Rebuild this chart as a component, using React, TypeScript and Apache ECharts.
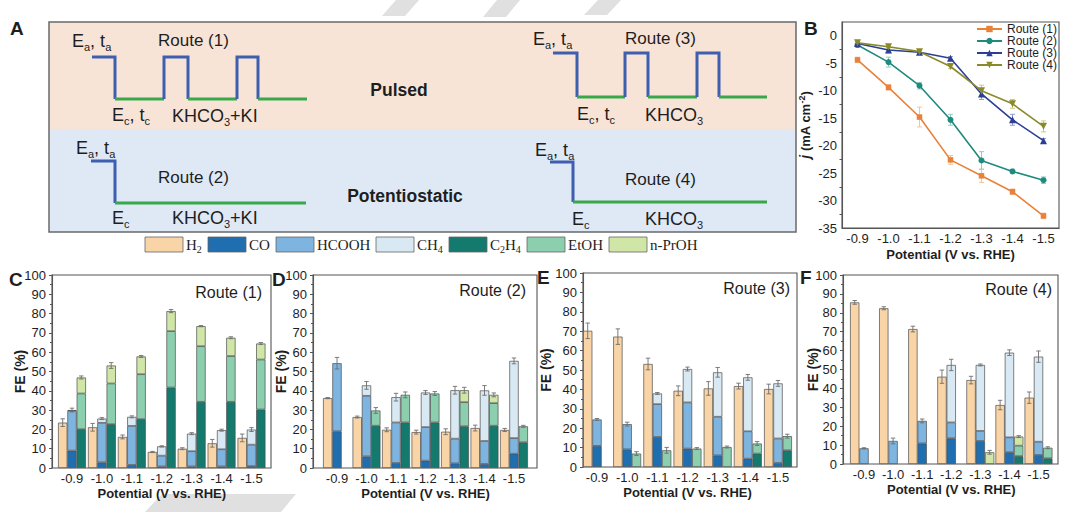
import React, { useEffect, useRef } from 'react';
import * as echarts from 'echarts';

// ---------------- DATA ----------------
const potentials = ['-0.9', '-1.0', '-1.1', '-1.2', '-1.3', '-1.4', '-1.5'];

// Panel B: current density j (mA cm-2)
const routeNames = ['Route (1)', 'Route (2)', 'Route (3)', 'Route (4)'];
const jRoute1 = [-4.4, -9.4, -14.8, -22.6, -25.5, -28.4, -32.8];
const jRoute2 = [-1.7, -4.8, -9.1, -15.3, -22.7, -24.7, -26.3];
const jRoute3 = [-1.4, -2.6, -3.0, -4.1, -10.6, -15.3, -19.1];
const jRoute4 = [-1.3, -2.0, -2.9, -5.6, -10.0, -12.4, -16.5];
const jErr1 = [0.5, 0.5, 1.8, 0.8, 1.2, 0.5, 0.5];
const jErr2 = [0.4, 0.9, 0.6, 1.0, 1.6, 0.4, 0.6];
const jErr3 = [0.3, 0.5, 0.3, 0.3, 1.0, 1.0, 0.4];
const jErr4 = [0.3, 0.4, 0.4, 0.4, 1.0, 0.8, 1.0];

// Faradaic efficiencies (%)
const products = ['H2', 'CO', 'HCOOH', 'CH4', 'C2H4', 'EtOH', 'n-PrOH'];

// Route (1)
const c_H2 = [23.5, 21.1, 16.1, 8.3, 10.0, 12.8, 15.6];
const c_CO = [9.0, 2.9, 1.6, 0.8, 0.8, 0.8, 1.0];
const c_HCOOH = [20.6, 20.5, 20.2, 5.6, 7.9, 8.9, 11.1];
const c_CH4 = [0.4, 2.2, 4.7, 4.8, 9.1, 9.9, 7.8];
const c_C2H4 = [20.1, 22.7, 25.3, 41.7, 34.3, 34.3, 30.3];
const c_EtOH = [18.5, 21.1, 23.3, 29.2, 28.8, 23.7, 25.9];
const c_PrOH = [8.3, 9.3, 9.2, 10.4, 10.4, 9.5, 8.3];
const c_errH2 = [2, 2, 1, 0.3, 0.5, 2, 2];
const c_errA = [1, 0.5, 0.5, 0.3, 0.5, 0.5, 1];
const c_errB = [0.8, 1.5, 0.5, 0.8, 0.3, 0.5, 0.5];

// Route (2)
const d_H2 = [36.2, 26.4, 19.8, 18.6, 18.8, 20.7, 19.7];
const d_CO = [19.0, 6.0, 2.6, 3.8, 2.4, 2.1, 7.4];
const d_HCOOH = [35.3, 31.4, 21.0, 17.4, 12.8, 11.9, 8.1];
const d_CH4 = [0, 5.4, 13.1, 17.9, 25.1, 26.2, 40.0];
const d_C2H4 = [0, 21.9, 23.6, 23.6, 21.6, 21.9, 13.3];
const d_EtOH = [0, 7.9, 14.3, 15.0, 12.5, 11.7, 8.3];
const d_PrOH = [0, 0, 0, 0, 6.2, 4.3, 0];
const d_errH2 = [0.3, 0.5, 1, 1, 1.5, 1.5, 0.8];
const d_errA = [3, 2, 2, 1, 2, 2.5, 1.5];
const d_errB = [0, 1.5, 1.5, 1, 1.5, 1, 0.5];

// Route (3)
const e_H2 = [70.2, 67.2, 53.1, 39.3, 40.5, 41.7, 40.2];
const e_CO = [10.9, 9.1, 15.5, 9.5, 6.0, 4.3, 2.1];
const e_HCOOH = [13.6, 13.0, 16.9, 23.8, 19.9, 14.1, 12.6];
const e_CH4 = [0, 0, 5.5, 17.2, 22.9, 27.8, 28.4];
const e_C2H4 = [0, 0, 0, 0, 0, 6.9, 8.6];
const e_EtOH = [0, 6.9, 8.6, 9.5, 10.3, 5.2, 7.3];
const e_PrOH = [0, 0, 0, 0, 0, 0, 0];
const e_errH2 = [4, 4, 3, 2.5, 3.5, 1.5, 2.5];
const e_errA = [0.5, 1, 0.5, 1, 2.5, 1.5, 1.5];
const e_errB = [0, 1, 1.5, 0.5, 0.5, 1, 1];

// Route (4)
const f_H2 = [85.5, 82.4, 71.4, 46.2, 44.4, 31.2, 35.1];
const f_CO = [0, 0, 10.9, 13.6, 12.2, 6.2, 4.8];
const f_HCOOH = [8.3, 12.2, 11.9, 8.4, 5.3, 7.9, 7.0];
const f_CH4 = [0, 0, 0, 30.4, 34.9, 44.8, 45.0];
const f_C2H4 = [0, 0, 0, 0, 0, 4.2, 3.0];
const f_EtOH = [0, 0, 0, 0, 0, 5.5, 5.6];
const f_PrOH = [0, 0, 0, 0, 6.2, 4.8, 0];
const f_errH2 = [1, 0.8, 1.5, 3.5, 2, 2.5, 3];
const f_errA = [0.3, 1.5, 1, 3, 0.5, 1.5, 3];
const f_errB = [0, 0, 0, 0, 1, 0.5, 0.5];

// ---------------- STYLE / LAYOUT ----------------
const FONT = '"Liberation Sans", Arial, Helvetica, sans-serif';
const SERIF = '"Liberation Serif", "Times New Roman", serif';
const INK = '#1e1e1e';
const AXIS = '#555555';
const productColors = ['#f9d4a6', '#1f6eb0', '#7db4e0', '#d8e9f4', '#157a6e', '#8ccfaf', '#cfe6a6'];
const productStacks = ['h', 'a', 'a', 'a', 'b', 'b', 'b'];
const routeColors = ['#e8823a', '#1f8a7e', '#2b3f96', '#8a8a2a'];
const routeErrColors = ['#f4c49a', '#8fcfc6', '#8f9ad0', '#c9c98a'];
const routeSymbols = ['rect', 'circle', 'triangle', 'triangle'];
const routeSymbolRotate = [0, 0, 0, 180];
const routeSymbolSize = [5.5, 6, 7, 7];

const panels = [
  { label: 'C', route: 'Route (1)', series: [c_H2, c_CO, c_HCOOH, c_CH4, c_C2H4, c_EtOH, c_PrOH], err: [c_errH2, c_errA, c_errB],
    frame: [52, 271, 275, 468], centers: [72, 251.5], nameGapY: 25, routeXY: [262, 292], labelXY: [9, 279] },
  { label: 'D', route: 'Route (2)', series: [d_H2, d_CO, d_HCOOH, d_CH4, d_C2H4, d_EtOH, d_PrOH], err: [d_errH2, d_errA, d_errB],
    frame: [313, 537, 275, 468], centers: [337, 514], nameGapY: 25, routeXY: [526, 290], labelXY: [272, 279] },
  { label: 'E', route: 'Route (3)', series: [e_H2, e_CO, e_HCOOH, e_CH4, e_C2H4, e_EtOH, e_PrOH], err: [e_errH2, e_errA, e_errB],
    frame: [583, 797, 273, 467], centers: [597, 778], nameGapY: 30, routeXY: [790, 288], labelXY: [537, 277] },
  { label: 'F', route: 'Route (4)', series: [f_H2, f_CO, f_HCOOH, f_CH4, f_C2H4, f_EtOH, f_PrOH], err: [f_errH2, f_errA, f_errB],
    frame: [843, 1058, 275, 464], centers: [864, 1038.5], nameGapY: 23, routeXY: [1052, 289], labelXY: [800, 277] },
];

const BAR_W = 9.3;

// ---------------- HELPERS ----------------
const rt = (segs: Array<[string, boolean]>) => segs.map(([t, s]) => `{${s ? 's' : 'm'}|${t}}`).join('');

const richA = {
  m: { fontSize: 18, fontFamily: FONT, fill: INK, lineHeight: 22 },
  s: { fontSize: 11, fontFamily: FONT, fill: INK, verticalAlign: 'bottom' },
};
const richL = {
  m: { fontSize: 15, fontFamily: SERIF, fill: INK, lineHeight: 18 },
  s: { fontSize: 10, fontFamily: SERIF, fill: INK, verticalAlign: 'bottom' },
};

function textEl(x: number, y: number, text: string, opts: any = {}) {
  return {
    type: 'text',
    x,
    y,
    z: 20,
    style: {
      text,
      fill: INK,
      fontFamily: FONT,
      fontSize: 17,
      align: 'left',
      verticalAlign: 'middle',
      ...opts,
    },
  };
}

function wave(points: number[][], color: string) {
  return {
    type: 'polyline',
    z: 10,
    shape: { points },
    style: { stroke: color, lineWidth: 3, fill: null, lineJoin: 'miter' },
  };
}

function buildGraphic() {
  const BLUE = '#3d5fae';
  const GREEN = '#39a84a';
  const g: any[] = [];
  // watermark shapes
  const wm = '#e0e0e0';
  g.push({ type: 'polygon', z: -5, shape: { points: [[396, 0], [419, 0], [405, 16], [382, 16]] }, style: { fill: wm } });
  g.push({ type: 'polygon', z: -5, shape: { points: [[497, 0], [520, 0], [506, 17], [483, 17]] }, style: { fill: wm } });
  g.push({ type: 'polygon', z: -5, shape: { points: [[598, 0], [621, 0], [607, 15], [584, 15]] }, style: { fill: wm } });
  g.push({ type: 'polygon', z: -5, shape: { points: [[162, 494], [296, 494], [281, 512], [145, 512]] }, style: { fill: wm } });

  // Panel A box
  g.push({ type: 'rect', z: 5, shape: { x: 49, y: 22, width: 747, height: 107 }, style: { fill: '#f8e4d6' } });
  g.push({ type: 'rect', z: 5, shape: { x: 49, y: 129, width: 747, height: 103 }, style: { fill: '#dfe9f6' } });
  g.push({ type: 'rect', z: 6, shape: { x: 49, y: 22, width: 747, height: 210 }, style: { fill: null, stroke: '#6a6a6a', lineWidth: 1.5 } });

  // Route (1) waveform
  g.push(wave([[92, 57], [115, 57], [115, 99]], BLUE));
  g.push(wave([[115, 99], [164, 99]], GREEN));
  g.push(wave([[164, 99], [164, 57], [188, 57], [188, 99]], BLUE));
  g.push(wave([[188, 99], [237, 99]], GREEN));
  g.push(wave([[237, 99], [237, 57], [258, 57], [258, 99]], BLUE));
  g.push(wave([[258, 99], [307, 99]], GREEN));
  // Route (2)
  g.push(wave([[91, 161], [115, 161], [115, 203]], BLUE));
  g.push(wave([[115, 203], [306, 203]], GREEN));
  // Route (3)
  g.push(wave([[553, 53], [577, 53], [577, 97]], BLUE));
  g.push(wave([[577, 97], [625, 97]], GREEN));
  g.push(wave([[625, 97], [625, 53], [648, 53], [648, 97]], BLUE));
  g.push(wave([[648, 97], [697, 97]], GREEN));
  g.push(wave([[697, 97], [697, 53], [719, 53], [719, 97]], BLUE));
  g.push(wave([[719, 97], [767, 97]], GREEN));
  // Route (4)
  g.push(wave([[550, 162], [573, 162], [573, 202]], BLUE));
  g.push(wave([[573, 202], [767, 202]], GREEN));

  const eata = rt([['E', false], ['a', true], [', t', false], ['a', true]]);
  const ectc = rt([['E', false], ['c', true], [', t', false], ['c', true]]);
  const ec = rt([['E', false], ['c', true]]);
  const khki = rt([['KHCO', false], ['3', true], ['+KI', false]]);
  const kh = rt([['KHCO', false], ['3', true]]);

  const aTexts: Array<[number, number, string, boolean]> = [
    [72, 41, eata, true], [158, 40, 'Route (1)', false], [112, 115, ectc, true], [172, 116, khki, true],
    [76, 148, eata, true], [158, 177, 'Route (2)', false], [112, 218, ec, true], [172, 218, khki, true],
    [533, 39, eata, true], [625, 38, 'Route (3)', false], [577, 114, ectc, true], [645, 115, kh, true],
    [535, 150, eata, true], [625, 179, 'Route (4)', false], [572, 219, ec, true], [645, 219, kh, true],
  ];
  aTexts.forEach(([x, y, t, rich]) => {
    g.push(textEl(x, y, t, rich ? { rich: richA } : { fontSize: 17 }));
  });
  g.push(textEl(399, 90, 'Pulsed', { fontSize: 17.5, fontWeight: 'bold', align: 'center' }));
  g.push(textEl(405, 196, 'Potentiostatic', { fontSize: 17.5, fontWeight: 'bold', align: 'center' }));

  // panel letters
  g.push(textEl(10, 28, 'A', { fontSize: 19, fontWeight: 'bold' }));
  g.push(textEl(804, 28, 'B', { fontSize: 19, fontWeight: 'bold' }));
  panels.forEach((p) => {
    g.push(textEl(p.labelXY[0], p.labelXY[1], p.label, { fontSize: 19, fontWeight: 'bold' }));
    g.push(textEl(p.routeXY[0], p.routeXY[1], p.route, { fontSize: 16, align: 'right' }));
  });

  // product legend
  const legendTexts = [
    rt([['H', false], ['2', true]]),
    rt([['CO', false]]),
    rt([['HCOOH', false]]),
    rt([['CH', false], ['4', true]]),
    rt([['C', false], ['2', true], ['H', false], ['4', true]]),
    rt([['EtOH', false]]),
    rt([['n-PrOH', false]]),
  ];
  const legendTextW = [16, 21, 53, 26, 31, 35, 48];
  let lx = 145;
  products.forEach((_, i) => {
    g.push({ type: 'rect', z: 20, shape: { x: lx, y: 237, width: 38, height: 15 }, style: { fill: productColors[i], stroke: '#666', lineWidth: 0.8 } });
    g.push(textEl(lx + 41, 245, legendTexts[i], { rich: richL }));
    lx += 38 + 3 + legendTextW[i] + 6;
  });
  return g;
}

function errRenderLine(color: string) {
  return (params: any, api: any) => {
    const x = api.value(0);
    const lo = api.coord([x, api.value(1)]);
    const hi = api.coord([x, api.value(2)]);
    const w = 2.5;
    const st = { stroke: color, lineWidth: 1 };
    return {
      type: 'group',
      children: [
        { type: 'line', shape: { x1: lo[0], y1: lo[1], x2: hi[0], y2: hi[1] }, style: st },
        { type: 'line', shape: { x1: lo[0] - w, y1: lo[1], x2: lo[0] + w, y2: lo[1] }, style: st },
        { type: 'line', shape: { x1: hi[0] - w, y1: hi[1], x2: hi[0] + w, y2: hi[1] }, style: st },
      ],
    };
  };
}

function errRenderBars(params: any, api: any) {
  const i = api.value(0);
  const children: any[] = [];
  const st = { stroke: '#6e6e6e', lineWidth: 0.9 };
  for (let k = 0; k < 3; k++) {
    const top = api.value(1 + 2 * k);
    const err = api.value(2 + 2 * k);
    if (!(top > 0) || !(err > 0)) continue;
    const c = api.coord([i, top]);
    const x = c[0] + (k - 1) * BAR_W;
    const y1 = api.coord([i, top + err])[1];
    const y0 = api.coord([i, top - err])[1];
    const w = 2.2;
    children.push({ type: 'line', shape: { x1: x, y1: y0, x2: x, y2: y1 }, style: st });
    children.push({ type: 'line', shape: { x1: x - w, y1: y1, x2: x + w, y2: y1 }, style: st });
    children.push({ type: 'line', shape: { x1: x - w, y1: y0, x2: x + w, y2: y0 }, style: st });
  }
  return { type: 'group', children };
}

function buildOption() {
  const grid: any[] = [];
  const xAxis: any[] = [];
  const yAxis: any[] = [];
  const series: any[] = [];
  const axisLine = { show: true, onZero: false, lineStyle: { color: AXIS, width: 1.1 } };
  const labelStyle = { fontFamily: FONT, fontSize: 13, color: INK };
  const nameStyle = { fontFamily: FONT, fontSize: 13, fontWeight: 'bold', color: INK };

  // ---- Panel B ----
  grid.push({ left: 842, top: 22, width: 217, height: 206, show: true, borderColor: AXIS, borderWidth: 1.1, backgroundColor: 'transparent' });
  xAxis.push({
    gridIndex: 0, type: 'category', data: potentials, boundaryGap: true,
    axisLine, axisTick: { alignWithLabel: true, length: 4, lineStyle: { color: AXIS } },
    axisLabel: { ...labelStyle, margin: 4, interval: 0 },
    name: 'Potential (V vs. RHE)', nameLocation: 'middle', nameGap: 20, nameMoveOverlap: false, nameTextStyle: nameStyle,
  });
  xAxis.push({
    gridIndex: 0, type: 'category', data: potentials, boundaryGap: true, position: 'bottom',
    axisLine: { show: false, onZero: false }, axisLabel: { show: false },
    axisTick: { length: 2.5, lineStyle: { color: AXIS } },
  });
  yAxis.push({
    gridIndex: 0, type: 'value', min: -35, max: 2.5, interval: 5,
    axisLine, axisTick: { length: 4, lineStyle: { color: AXIS } },
    minorTick: { show: true, splitNumber: 2, length: 2.5, lineStyle: { color: AXIS } },
    splitLine: { show: false },
    axisLabel: { ...labelStyle, margin: 5, showMaxLabel: false },
    name: '{i|j} (mA cm{p|-2})', nameLocation: 'middle', nameGap: 29, nameRotate: 90, nameMoveOverlap: false,
    nameTextStyle: {
      ...nameStyle,
      rich: {
        i: { fontFamily: FONT, fontSize: 14, fontStyle: 'italic', fontWeight: 'bold', color: INK, lineHeight: 16 },
        p: { fontFamily: FONT, fontSize: 9, fontWeight: 'bold', color: INK, verticalAlign: 'top' },
      },
    },
  });
  const jData = [jRoute1, jRoute2, jRoute3, jRoute4];
  const jErr = [jErr1, jErr2, jErr3, jErr4];
  jData.forEach((vals, r) => {
    series.push({
      type: 'custom', xAxisIndex: 0, yAxisIndex: 0, silent: true, z: 2,
      renderItem: errRenderLine(routeErrColors[r]),
      data: vals.map((v, i) => [i, v - jErr[r][i], v + jErr[r][i]]),
    });
  });
  jData.forEach((vals, r) => {
    series.push({
      name: routeNames[r], type: 'line', xAxisIndex: 0, yAxisIndex: 0, data: vals,
      symbol: routeSymbols[r], symbolSize: routeSymbolSize[r], symbolRotate: routeSymbolRotate[r],
      color: routeColors[r], itemStyle: { color: routeColors[r] }, lineStyle: { width: 1.6, color: routeColors[r] },
      z: 3, silent: true,
    });
  });

  // ---- Bar panels ----
  panels.forEach((p, k) => {
    const [fl, fr, ft, fb] = p.frame;
    const fi = grid.length;
    grid.push({ left: fl, top: ft, width: fr - fl, height: fb - ft, show: true, borderColor: AXIS, borderWidth: 1.1, backgroundColor: 'transparent' });
    const spacing = (p.centers[1] - p.centers[0]) / 6;
    const bi = grid.length;
    grid.push({ left: p.centers[0] - spacing / 2, top: ft, width: spacing * 7, height: fb - ft });

    xAxis.push({ gridIndex: fi, type: 'value', min: 0, max: 1, show: false });
    yAxis.push({
      gridIndex: fi, type: 'value', min: 0, max: 100, interval: 10,
      axisLine, axisTick: { length: 3, lineStyle: { color: AXIS } },
      minorTick: { show: true, splitNumber: 2, length: 2, lineStyle: { color: AXIS } },
      splitLine: { show: false },
      axisLabel: { ...labelStyle, margin: 6 },
      name: 'FE (%)', nameLocation: 'middle', nameGap: p.nameGapY, nameRotate: 90, nameMoveOverlap: false,
      nameTextStyle: { ...nameStyle, fontSize: 14 },
    });
    const bx = xAxis.length;
    xAxis.push({
      gridIndex: bi, type: 'category', data: potentials,
      axisLine: { show: false, onZero: false },
      axisTick: { alignWithLabel: true, length: 3, lineStyle: { color: AXIS } },
      axisLabel: { ...labelStyle, margin: 4, interval: 0 },
      name: 'Potential (V vs. RHE)', nameLocation: 'middle', nameGap: 19, nameMoveOverlap: false, nameTextStyle: nameStyle,
    });
    const by = yAxis.length;
    yAxis.push({ gridIndex: bi, type: 'value', min: 0, max: 100, show: false });

    p.series.forEach((vals, s) => {
      series.push({
        name: products[s] + ' ' + p.label, type: 'bar', xAxisIndex: bx, yAxisIndex: by,
        stack: 'st' + k + productStacks[s], barWidth: BAR_W, barGap: '0%',
        data: vals.map((v) => (v > 0 ? v : '-')),
        itemStyle: { color: productColors[s], borderColor: '#4d4d4d', borderWidth: 0.7 },
        silent: true, z: 2,
      });
    });
    const sv = p.series;
    const errData = potentials.map((_, i) => {
      const tA = sv[1][i] + sv[2][i] + sv[3][i];
      const tB = sv[4][i] + sv[5][i] + sv[6][i];
      return [i, sv[0][i], p.err[0][i], tA, p.err[1][i], tB, p.err[2][i]];
    });
    series.push({
      type: 'custom', xAxisIndex: bx, yAxisIndex: by, silent: true, z: 4,
      renderItem: errRenderBars, data: errData,
    });
  });

  return {
    animation: false,
    backgroundColor: '#ffffff',
    textStyle: { fontFamily: FONT },
    grid,
    xAxis,
    yAxis,
    series,
    legend: {
      data: routeNames, orient: 'vertical', right: 23, top: 23, padding: 0,
      itemWidth: 25, itemHeight: 8, itemGap: 0,
      textStyle: { fontFamily: FONT, fontSize: 12, color: INK },
    },
    graphic: buildGraphic(),
  };
}

export default function App() {
  const ref = useRef<HTMLDivElement>(null);
  useEffect(() => {
    const chart = echarts.init(ref.current as HTMLDivElement, null, { renderer: 'svg' });
    chart.setOption(buildOption() as any);
    return () => chart.dispose();
  }, []);
  return (
    <div
      ref={ref}
      style={{ position: 'fixed', left: 0, top: 0, width: 1080, height: 512, background: '#ffffff' }}
    />
  );
}
